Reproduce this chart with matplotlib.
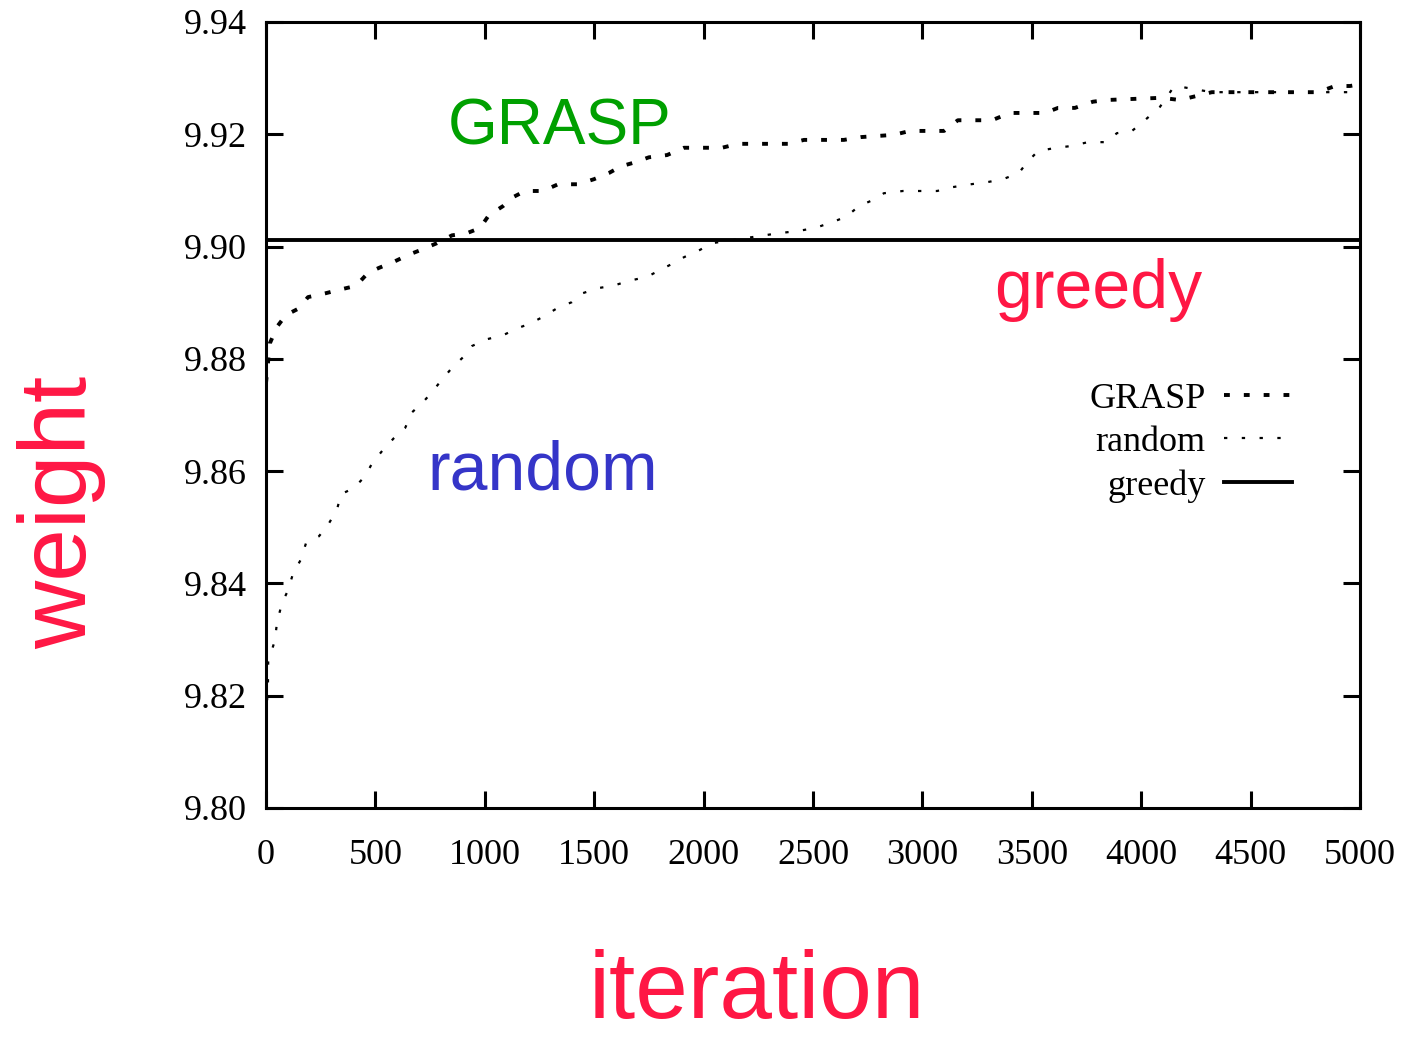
#!/usr/bin/env python
# -*- coding: utf-8 -*-
"""Weight of best solution against iteration: GRASP, random and greedy."""

import numpy as np
import matplotlib
matplotlib.use('Agg')
import matplotlib.pyplot as plt

# values
grasp_x = [0, 18, 50, 91, 151, 192, 274, 334, 411, 466, 516, 585, 649, 708,
           781, 850, 919, 978, 1019, 1083, 1129, 1184, 1266, 1335, 1426, 1499,
           1567, 1623, 1686, 1750, 1833, 1910, 2084, 2157, 2386, 2459, 2641,
           2719, 2870, 2943, 3099, 3162, 3318, 3400, 3560, 3620, 3697, 3779,
           3839, 4093, 4177, 4323, 4808, 4886, 4954, 5000]
grasp_y = [9.8757, 9.8828, 9.8857, 9.8878, 9.8890, 9.8910, 9.8917, 9.8923,
           9.8930, 9.8953, 9.8962, 9.8973, 9.8985, 9.8994, 9.9006, 9.9020,
           9.9024, 9.9033, 9.9056, 9.9072, 9.9088, 9.9099, 9.9099, 9.9111,
           9.9111, 9.9120, 9.9131, 9.9143, 9.9150, 9.9159, 9.9163, 9.9176,
           9.9176, 9.9183, 9.9183, 9.9190, 9.9190, 9.9195, 9.9199, 9.9206,
           9.9206, 9.9225, 9.9225, 9.9238, 9.9238, 9.9247, 9.9247, 9.9258,
           9.9261, 9.9265, 9.9261, 9.9275, 9.9275, 9.9286, 9.9286, 9.9289]

random_x = [5, 9, 10, 41, 50, 73, 101, 123, 160, 183, 242, 283, 324, 343, 402,
            453, 485, 535, 585, 636, 668, 718, 759, 800, 850, 901, 942, 1010,
            1083, 1152, 1202, 1262, 1334, 1398, 1448, 1517, 1585, 1659, 1741,
            1800, 1855, 1910, 1983, 2038, 2276, 2349, 2435, 2509, 2591, 2651,
            2710, 2774, 2824, 2911, 2989, 3067, 3140, 3222, 3300, 3368, 3441,
            3478, 3528, 3611, 3679, 3757, 3839, 3889, 3958, 4008, 4086, 4141,
            4160, 4323, 5000]
random_y = [9.8192, 9.8223, 9.8260, 9.8299, 9.8330, 9.8365, 9.8388, 9.8417,
            9.8443, 9.8472, 9.8484, 9.8504, 9.8531, 9.8559, 9.8570, 9.8591,
            9.8614, 9.8638, 9.8659, 9.8677, 9.8705, 9.8723, 9.8741, 9.8761,
            9.8784, 9.8803, 9.8823, 9.8835, 9.8842, 9.8855, 9.8862, 9.8874,
            9.8891, 9.8901, 9.8917, 9.8926, 9.8930, 9.8939, 9.8946, 9.8958,
            9.8969, 9.8981, 9.8994, 9.9006, 9.9020, 9.9024, 9.9028, 9.9033,
            9.9044, 9.9053, 9.9072, 9.9083, 9.9095, 9.9099, 9.9099, 9.9099,
            9.9106, 9.9111, 9.9115, 9.9120, 9.9131, 9.9150, 9.9170, 9.9176,
            9.9179, 9.9186, 9.9186, 9.9202, 9.9206, 9.9222, 9.9249, 9.9280,
            9.9286, 9.9275, 9.9275]

greedy_x = [0, 5000]
greedy_y = [9.9012, 9.9012]

x_ticks = [0, 500, 1000, 1500, 2000, 2500, 3000, 3500, 4000, 4500, 5000]
y_ticks = [9.80, 9.82, 9.84, 9.86, 9.88, 9.90, 9.92, 9.94]

serif = ['Liberation Serif', 'DejaVu Serif']
sans = ['Liberation Sans', 'DejaVu Sans']
red = '#ff1744'

figure = plt.figure(figsize=(14.04, 10.40), dpi=100)
axes = figure.add_axes([266 / 1404, 1 - 808 / 1040,
                        (1360 - 266) / 1404, (808 - 22) / 1040])

axes.plot(grasp_x, grasp_y, color='black', lw=2.8,
          linestyle=(0, (1.5, 3.6)), dash_capstyle='butt', label='GRASP')
axes.plot(random_x, random_y, color='black', lw=1.6,
          linestyle=(0, (1.5, 6.5)), dash_capstyle='butt', label='random')
axes.plot(greedy_x, greedy_y, color='black', lw=2.8, label='greedy')

axes.set_xlim(0, 5000)
axes.set_ylim(9.80, 9.94)
axes.set_xticks(x_ticks)
axes.set_yticks(y_ticks)
axes.set_xticklabels(['{0:d}'.format(x) for x in x_ticks])
axes.set_yticklabels(['{0:.2f}'.format(y) for y in y_ticks])

for spine in axes.spines.values():
    spine.set_linewidth(2.2)

axes.tick_params(direction='in', length=12, width=2.2, top=True, right=True)
axes.tick_params(axis='x', pad=22)
axes.tick_params(axis='y', pad=14)
for label in axes.get_xticklabels() + axes.get_yticklabels():
    label.set_family(serif)
    label.set_fontsize(26)

axes.text(1344, 9.9181, 'GRASP', color='#00a000', family=sans,
          fontsize=46, ha='center', va='baseline')
axes.text(3803, 9.8890, 'greedy', color=red, family=sans,
          fontsize=49, ha='center', va='baseline')
axes.text(1266, 9.8568, 'random', color='#3535c8', family=sans,
          fontsize=49, ha='center', va='baseline')

figure.text(62 / 1404, 1 - 512 / 1040, 'weight', color=red, family=sans,
            fontsize=68, rotation=90, ha='center', va='center')
figure.text(757 / 1404, 2 / 1040, 'iteration', color=red,
            family=sans, fontsize=68, ha='center', va='bottom')

legend = axes.legend(loc='upper right', bbox_to_anchor=(0.968, 0.583),
                     frameon=False, markerfirst=False, handlelength=1.9,
                     handletextpad=0.5, labelspacing=0.28,
                     prop={'family': serif, 'size': 26})

figure.savefig('out.png', dpi=100)
